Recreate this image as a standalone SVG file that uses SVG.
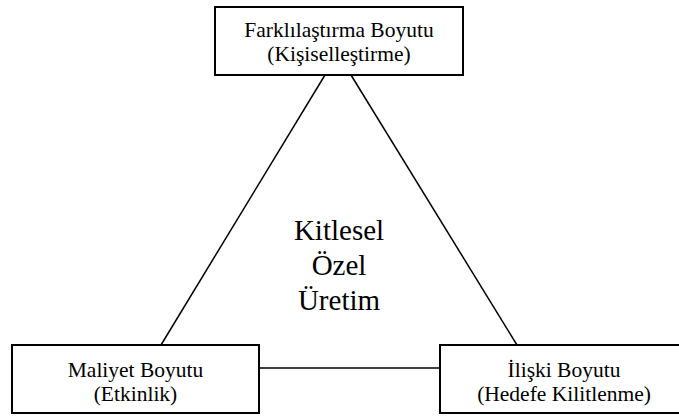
<svg xmlns="http://www.w3.org/2000/svg" width="679" height="416" viewBox="0 0 679 416">
  <style>
    .box { fill: #ffffff; stroke: #000000; stroke-width: 2; }
    .edge { stroke: #000000; stroke-width: 1.5; fill: none; }
    .lbl { font-family: "Liberation Serif", "Times New Roman", "DejaVu Serif", serif; font-size: 21.5px; fill: #000000; text-anchor: middle; }
    .core { font-family: "Liberation Serif", "Times New Roman", "DejaVu Serif", serif; font-size: 29px; fill: #000000; text-anchor: middle; }
  </style>
  <rect width="679" height="416" fill="#ffffff"/>

  <!-- connectors between the three dimensions -->
  <g id="connectors">
    <line class="edge" x1="325" y1="75" x2="161" y2="345"/>
    <line class="edge" x1="351" y1="75" x2="517" y2="345"/>
    <line class="edge" x1="259" y1="368" x2="440" y2="368"/>
  </g>

  <g id="node-farklilastirma">
    <rect class="box" x="215" y="7" width="248" height="68"/>
    <text class="lbl" x="339" y="37">Farklılaştırma Boyutu</text>
    <text class="lbl" x="339" y="61">(Kişiselleştirme)</text>
  </g>

  <g id="node-maliyet">
    <rect class="box" x="12" y="345" width="247" height="68"/>
    <text class="lbl" x="135.5" y="377">Maliyet Boyutu</text>
    <text class="lbl" x="135.5" y="401">(Etkinlik)</text>
  </g>

  <g id="node-iliski">
    <rect class="box" x="440" y="345" width="248" height="68"/>
    <text class="lbl" x="564" y="377">İlişki Boyutu</text>
    <text class="lbl" x="564" y="401">(Hedefe Kilitlenme)</text>
  </g>

  <g id="center-label">
    <text class="core" x="339" y="240">Kitlesel</text>
    <text class="core" x="339" y="275">Özel</text>
    <text class="core" x="339" y="310">Üretim</text>
  </g>
</svg>
